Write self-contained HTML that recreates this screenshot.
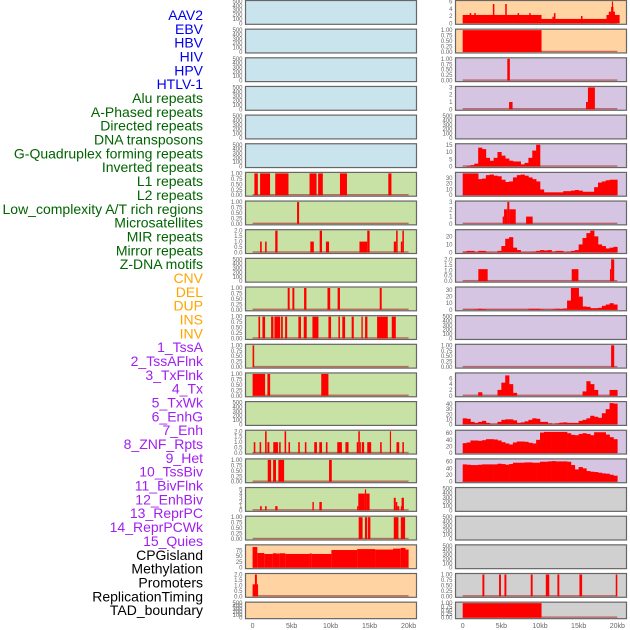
<!DOCTYPE html>
<html><head><meta charset="utf-8"><style>
html,body{margin:0;padding:0;background:#fff;}
svg{display:block;font-family:"Liberation Sans",sans-serif;}
</style></head><body>
<svg id="chart" width="630" height="630" viewBox="0 0 630 630" xmlns="http://www.w3.org/2000/svg"></svg>
<script>
// ---------- data ----------
const labels = ["AAV2","EBV","HBV","HIV","HPV","HTLV-1","Alu repeats","A-Phased repeats","Directed repeats","DNA transposons","G-Quadruplex forming repeats","Inverted repeats","L1 repeats","L2 repeats","Low_complexity A/T rich regions","Microsatellites","MIR repeats","Mirror repeats","Z-DNA motifs","CNV","DEL","DUP","INS","INV","1_TssA","2_TssAFlnk","3_TxFlnk","4_Tx","5_TxWk","6_EnhG","7_Enh","8_ZNF_Rpts","9_Het","10_TssBiv","11_BivFlnk","12_EnhBiv","13_ReprPC","14_ReprPCWk","15_Quies","CPGisland","Methylation","Promoters","ReplicationTiming","TAD_boundary"];
const xTickValues = [0,5,10,15,20];
const xTickLabels = ["0","5kb","10kb","15kb","20kb"];

const segAlu = [[0.23,0.67,1],[0.96,2.24,1],[2.9,4.6,1],[7.3,8.2,1],[8.4,9.0,1],[11.2,12.1,1],[17.4,17.8,1]];
const segAPhased = [[5.7,5.96,1]];
const segDirected = [[0.96,1.17,1],[1.6,1.8,1],[2.9,3.2,2],[7.4,7.85,1],[8.6,8.9,2],[9.4,9.8,1],[13.7,14.7,1],[14.7,15.0,2],[18.1,18.4,1],[18.4,18.6,2],[19.0,19.2,1],[19.2,19.4,2]];
const segGQuad = [[4.5,4.75,1],[5.1,5.35,1],[6.6,6.9,1],[9.6,9.95,1],[10.9,11.2,1],[16.3,16.55,1]];
const segInverted = [[0.75,0.96,1],[1.26,1.6,1],[2.37,2.67,1],[2.8,3.53,1],[3.65,3.87,1],[4.17,4.43,1],[5.87,6.2,1],[6.56,6.94,1],[7.67,8.44,1],[9.72,10.06,1],[11.0,11.2,1],[11.5,11.86,1],[12.7,12.97,1],[13.95,14.12,1],[14.42,14.72,1],[15.96,17.33,1],[17.84,18.36,1]];
const segL1 = [[0,0.2,1]];
const segL2 = [[0,1.6,1],[1.9,2.25,1],[8.8,9.72,1]];
const segMicrosat = [[0.15,0.35,1],[0.9,1.1,1],[1.6,1.8,2],[1.9,2.15,1],[2.65,3.25,1],[3.4,3.6,1],[4.1,4.3,2],[4.6,4.8,1],[5.85,6.05,1],[6.7,6.9,1],[7.9,8.25,1],[8.55,8.9,1],[9.4,9.6,1],[10.85,11.45,1],[11.9,12.3,1],[13.35,13.55,1],[13.55,13.75,2],[13.75,13.85,1],[14.0,14.3,1],[14.7,15.2,1],[16.35,16.55,1],[17.6,17.75,2],[18.45,18.8,1],[19.2,19.4,1]];
const segMIR = [[1.94,2.37,1],[2.63,3.0,1],[3.3,4.04,1],[9.8,10.15,1]];
const segMirror = [[0.96,1.17,1],[1.6,1.8,1],[2.9,3.2,1],[7.67,7.85,2],[8.56,8.87,2],[13.4,13.55,1],[13.55,14.4,4],[14.4,14.55,5],[14.55,15.0,4],[18.1,18.35,3],[18.35,18.55,2],[18.55,18.8,1],[19.0,19.1,1],[19.1,19.4,3]];
const segZDNA = [[13.6,14.1,1],[14.4,14.7,1],[14.8,15.1,1],[18.1,18.7,1],[19.0,19.55,1]];
const segCNV = [[0,0.6,89],[0.6,1.5,63],[1.5,2.6,59],[2.6,3.0,62],[3.0,3.5,61],[3.5,4.2,62],[4.2,7.3,59],[7.3,7.6,61],[7.6,10.1,59],[10.1,13.4,76],[13.4,15.7,80],[15.7,18.0,78],[18.0,19.0,82],[19.0,19.6,85],[19.6,20.0,78]];
const segDEL = [[0,0.7,1.1],[0.3,0.55,2]];
const segINS = [[0,10.2,2.3],[10.2,18.6,1.2],[18.6,20.3,2.3],[0.9,1.1,2.8],[1.5,1.7,2.8],[3.9,4.1,5.3],[5.5,5.7,5.3],[7.1,7.3,2.8],[8.6,8.8,2.8],[11.6,11.8,1.8],[11.8,12.0,2.8],[15.3,15.5,2.0],[18.9,19.7,3.2],[19.2,19.5,4.5],[19.3,19.45,6]];
const segINV = [[0,10.2,1]];
const segTssA = [[5.77,6.1,1]];
const segTssAFlnk = [[6.0,6.45,1],[15.95,16.2,1],[16.2,17.1,3]];
const binTx = [0,0.5,1,2,13,12,6,4,6,10,7.5,5.5,4,3.5,3.5,1.5,2.5,6,11,15,0,0,0,0,0,0,0,0,0,0,0,0,0,0,0,0,0,0,0,0];
const binTxWk = [39,39,39,39,28,29,35,36,34,33,27,23,24,31,35,36,34,31,28,24,10,5,5,5,5,5,7,7,8,9,8,6,6,6,14,22,24,26,27,27];
const segEnhG = [[5.17,5.35,1],[5.35,5.77,2],[5.77,6.03,3],[6.03,6.86,2],[8.2,9.05,1]];
const binEnh = [1,2,2,0.5,2,2,0.5,0.3,0.3,2,8,17,19,6,3,0.5,0.5,0.5,1,2,3,2.5,3,1,2,2,0.5,1,2,3,10,18,24,27,20,10,8,5,6,7];
const segZNF = [[2.02,3.23,1.1],[14.1,14.97,1.1],[19.05,19.2,1.1],[19.2,19.6,2]];
const binHet = [0.3,0.3,0.3,0.8,1.5,1,0.3,0.3,0.3,0.3,0.3,0.3,0.3,0.3,0.3,0.3,0.3,1.5,1.5,1.5,0.7,0.3,0.3,0.8,1.5,1.2,2,14,33,33,20,5,4.5,2.5,2.5,3,6,8,10,8];
const segBivFlnk = [[19.2,19.6,1]];
const binEnhBiv = [0,0,0,0,1.2,0,0,0,0,2,4.5,7,4,1,0,0,0,0,0,0,0,0,0,0,0,0,0,0,0,0,0,1.5,5,4,2,0,0,0,2,2];
const binReprPC = [12,11,5,3,5,7,3,0.5,0.5,5,9,10,10,8,3,4,6,9,12,11,5,5,2,0.5,2,3.5,4,3,3,3,7,9,12,17,15,13,22,30,42,41];
const binReprPCWk = [30,32,38,38,37,39,42,42,41,38,33,29,26,32,35,35,34,31,29,40,62,64,64,64,64,64,64,60,55,54,58,60,58,54,63,63,63,56,48,42];
const binQuies = [52,51,50,50,51,52,52,52,52,54,53,51,53,57,57,57,58,58,57,57,60,60,61,62,61,61,61,60,50,37,44,40,32,30,29,27,25,24,21,18];
const segPromoters = [[2.55,2.8,1],[4.7,4.95,1],[5.4,5.65,1],[8.8,9.05,1],[10.75,11.2,1],[12.25,12.5,1],[15.1,15.45,1],[19.8,20.0,1]];
const segTAD = [[0,10.2,1]];

const ticksEmpty = ["0","100","200","300","400","500"];
const ticksUnit = ["0.00","0.25","0.50","0.75","1.00"];
const ticksTwo = ["0.0","0.5","1.0","1.5","2.0"];

// panel specs: [data, kind, ymax, ticks]
const leftPanels = [
 [null,"e",500,ticksEmpty],[null,"e",500,ticksEmpty],[null,"e",500,ticksEmpty],[null,"e",500,ticksEmpty],[null,"e",500,ticksEmpty],[null,"e",500,ticksEmpty],
 [segAlu,"s",1,ticksUnit],[segAPhased,"s",1,ticksUnit],[segDirected,"s",2,ticksTwo],[null,"e",500,ticksEmpty],
 [segGQuad,"s",1,ticksUnit],[segInverted,"s",1,ticksUnit],[segL1,"s",1,ticksUnit],[segL2,"s",1,ticksUnit],[null,"e",500,ticksEmpty],
 [segMicrosat,"s",2,ticksTwo],[segMIR,"s",1,ticksUnit],[segMirror,"s",5.2,["0","1","2","3","4","5"]],[segZDNA,"s",1,ticksUnit],
 [segCNV,"s",94,["0","25","50","75"]],[segDEL,"s",2,ticksTwo],[null,"e",500,ticksEmpty]
];
const rightPanels = [
 [segINS,"s",6,["0","2","4","6"]],[segINV,"s",1,ticksUnit],[segTssA,"s",1,ticksUnit],[segTssAFlnk,"s",3,["0","1","2","3"]],[null,"e",500,ticksEmpty],
 [binTx,"b",15,["0","5","10","15"]],[binTxWk,"b",38,["0","10","20","30"]],[segEnhG,"s",3,["0","1","2","3"]],[binEnh,"b",27,["0","10","20"]],
 [segZNF,"s",2,ticksTwo],[binHet,"b",33,["0","10","20","30"]],[null,"e",500,ticksEmpty],[segBivFlnk,"s",1,ticksUnit],
 [binEnhBiv,"b",7.5,["0","2","4","6"]],[binReprPC,"b",43,["0","10","20","30","40"]],[binReprPCWk,"b",66,["0","20","40","60"]],[binQuies,"b",65.5,["0","20","40","60"]],
 [null,"e",500,ticksEmpty],[null,"e",500,ticksEmpty],[null,"e",500,ticksEmpty],[segPromoters,"s",1,ticksUnit],[segTAD,"s",1,ticksUnit]
];
const leftColors = ["#c9e4ec","#c9e4ec","#c9e4ec","#c9e4ec","#c9e4ec","#c9e4ec","#c8e1a5","#c8e1a5","#c8e1a5","#c8e1a5","#c8e1a5","#c8e1a5","#c8e1a5","#c8e1a5","#c8e1a5","#c8e1a5","#c8e1a5","#c8e1a5","#c8e1a5","#ffd3a2","#ffd3a2","#ffd3a2"];
const rightColors = ["#ffd3a2","#ffd3a2","#d5c5e2","#d5c5e2","#d5c5e2","#d5c5e2","#d5c5e2","#d5c5e2","#d5c5e2","#d5c5e2","#d5c5e2","#d5c5e2","#d5c5e2","#d5c5e2","#d5c5e2","#d5c5e2","#d5c5e2","#d0d0d0","#d0d0d0","#d0d0d0","#d0d0d0","#d0d0d0"];
const labelColors = ["#0000ee","#006400","#ffa500","#a020f0","#000000"];
const groupSizes = [6,13,5,15,5];

// ---------- drawing ----------
const NS = "http://www.w3.org/2000/svg";
const svg = document.getElementById("chart");
function mk(tag, attrs, parent){const e=document.createElementNS(NS,tag);for(const k in attrs)e.setAttribute(k,attrs[k]);(parent||svg).appendChild(e);return e;}

// labels
let gi=0, gc=0;
labels.forEach((t,i)=>{
  const el = mk("text",{x:203,y:15+i*13.84+5,"text-anchor":"end","font-size":"14",fill:labelColors[gi]});
  el.textContent=t;
  
  
  gc++; if(gc>=groupSizes[gi]){gi++;gc=0;}
});

function panelTop(i){return 0.5+i*28.65;}
function panelH(i){return i===21?16.5:23.8;}

function drawColumn(panels, colors, x0, x1, zeroX, pxPerKb, colName){
  const xs = kb=>zeroX+kb*pxPerKb;
  panels.forEach((p,i)=>{
    const [data,kind,ymax,ticks]=p;
    const top=panelTop(i), h=panelH(i), bot=top+h;
    const ys = v=>bot-1-Math.min(v,ymax)/ymax*(h-2);
    const g=mk("g",{});
    
    
    const bg=mk("rect",{x:x0,y:top,width:x1-x0,height:h,fill:colors[i]},g);
    
    
    // y ticks
    ticks.forEach((t,k)=>{
      const v = ymax===500 ? k*100 : parseFloat(t);
      const yy = ymax===500 ? bot-1-(k/5)*(h-2) : ys(v);
      const tl=mk("text",{x:x0-3,y:yy+2,"text-anchor":"end","font-size":"6",fill:"#666"},g);
      tl.textContent=t;
      
      
    });
    if(kind!=="e"){
      const bl=mk("rect",{x:xs(0),y:bot-2.2,width:xs(20)-xs(0),height:1.4,fill:"#b03a3a","fill-opacity":"0.7"},g);
      
      
    }
    if(kind==="s"){
      data.forEach(s=>{
        const xa=Math.max(x0,xs(s[0])), xb=Math.min(x1,xs(s[1]));
        const r=mk("rect",{x:xa,y:ys(s[2]),width:Math.max(1,xb-xa),height:bot-1-ys(s[2]),fill:"#ff0000"},g);
        
        
      });
    } else if(kind==="b"){
      data.forEach((v,k)=>{
        if(v<=0) return;
        const xa=xs(k*0.5), xb=xs(k*0.5+0.5);
        const r=mk("rect",{x:xa,y:ys(v),width:xb-xa+0.3,height:bot-1-ys(v),fill:"#ff0000"},g);
        
        
      });
    }
    const fr=mk("rect",{x:x0,y:top,width:x1-x0,height:h,fill:"none",stroke:"#666","stroke-width":"1.2"},g);
    
    
  });
  // x ticks
  xTickValues.forEach((v,k)=>{
    const t=mk("text",{x:xs(v),y:628,"text-anchor":"middle","font-size":"7",fill:"#666"});
    t.textContent=xTickLabels[k];
    
    
  });
}
drawColumn(leftPanels, leftColors, 245.5, 416.5, 252.6, 7.8, "left");
drawColumn(rightPanels, rightColors, 455.5, 626.5, 462.7, 7.73, "right");
</script>
</body></html>
